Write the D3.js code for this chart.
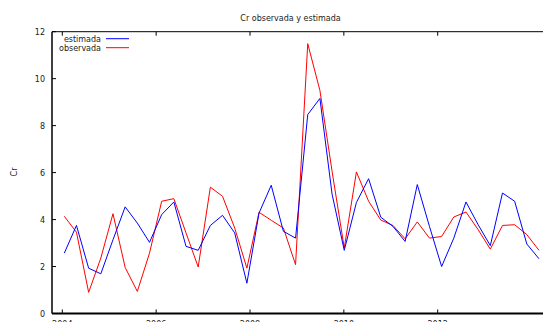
<!DOCTYPE html>
<html>
<head>
<meta charset="utf-8">
<script src="https://cdn.jsdelivr.net/npm/d3@7"></script>
<style>
  body { margin: 0; background: #fff; overflow: hidden; }
  text { font-family: "DejaVu Sans", sans-serif; font-size: 8px; fill: #222; }
</style>
</head>
<body>
<div id="graph"></div>
<script>
// quarterly observations, 40 periods
let estimada = [2.57, 3.75, 1.93, 1.69, 3.14, 4.54, 3.85, 3.03, 4.21, 4.75,
                2.86, 2.69, 3.75, 4.18, 3.43, 1.29, 4.28, 5.46, 3.50, 3.21,
                8.47, 9.16, 5.08, 2.69, 4.73, 5.74, 4.10, 3.71, 3.07, 5.49,
                3.71, 2.00, 3.21, 4.75, 3.78, 2.89, 5.13, 4.78, 2.96, 2.33];
let observada = [4.14, 3.46, 0.90, 2.36, 4.25, 1.96, 0.94, 2.57, 4.78, 4.89,
                 3.43, 1.98, 5.38, 4.99, 3.64, 1.93, 4.31, 3.97, 3.64, 2.08,
                 11.49, 9.50, 6.05, 2.79, 6.03, 4.78, 3.98, 3.75, 3.18, 3.90,
                 3.21, 3.28, 4.11, 4.32, 3.57, 2.74, 3.75, 3.78, 3.36, 2.69];
let yearTicks = [2004, 2006, 2008, 2010, 2012];
let yTicks = [0, 2, 4, 6, 8, 10, 12];

function graph() {
  let w = 543;
  let h = 322;
  let left = 52;
  let top = 31.7;
  let bottom = 313.5;

  const svg = d3.select("#graph")
                .append("svg")
                .attr("width", w)
                .attr("height", h);

  const xScale = d3.scaleLinear()
                   .domain([0, estimada.length - 1])
                   .range([64.3, 539]);

  // tick positions of the year axis (labels only)
  const yearScale = d3.scaleLinear()
                      .domain([2004, 2012])
                      .range([62.3, 437.7]);

  const yScale = d3.scaleLinear()
                   .domain([0, 12])
                   .range([bottom, top]);

  svg.append("text")
     .attr("x", 290.5)
     .attr("y", 21)
     .attr("text-anchor", "middle")
     .text("Cr observada y estimada");

  svg.append("text")
     .attr("transform", "translate(17,172) rotate(-90)")
     .attr("text-anchor", "middle")
     .text("Cr");

  // y ticks + labels
  yTicks.forEach(t => {
    svg.append("line")
       .attr("x1", left).attr("x2", left + 4)
       .attr("y1", yScale(t)).attr("y2", yScale(t))
       .attr("stroke", "#000");
    svg.append("text")
       .attr("x", 45)
       .attr("y", yScale(t) + 3)
       .attr("text-anchor", "end")
       .text(t);
  });

  // x ticks top and bottom
  yearTicks.forEach(t => {
    svg.append("line")
       .attr("x1", yearScale(t)).attr("x2", yearScale(t))
       .attr("y1", top).attr("y2", top + 4)
       .attr("stroke", "#000");
    svg.append("line")
       .attr("x1", yearScale(t)).attr("x2", yearScale(t))
       .attr("y1", bottom).attr("y2", bottom - 4)
       .attr("stroke", "#000");
    svg.append("text")
       .attr("x", yearScale(t))
       .attr("y", 327)
       .attr("text-anchor", "middle")
       .text(t);
  });

  const line = d3.line()
                 .x((d, i) => xScale(i))
                 .y(d => yScale(d));

  svg.append("path")
     .datum(observada)
     .attr("fill", "none")
     .attr("stroke", "#ff0000")
     .attr("stroke-width", 1)
     .attr("d", line);

  svg.append("path")
     .datum(estimada)
     .attr("fill", "none")
     .attr("stroke", "#0000ff")
     .attr("stroke-width", 1)
     .attr("d", line);

  // frame
  svg.append("line")
     .attr("x1", left).attr("x2", w + 5)
     .attr("y1", top).attr("y2", top)
     .attr("stroke", "#000").attr("stroke-width", 1);
  svg.append("line")
     .attr("x1", left).attr("x2", left)
     .attr("y1", top).attr("y2", bottom)
     .attr("stroke", "#000").attr("stroke-width", 1.5);
  svg.append("line")
     .attr("x1", left).attr("x2", w + 5)
     .attr("y1", bottom).attr("y2", bottom)
     .attr("stroke", "#000").attr("stroke-width", 2);

  // legend
  let legend = [["estimada", "#0000ff"], ["observada", "#ff0000"]];
  legend.forEach((l, i) => {
    let ly = 38.7 + i * 9;
    svg.append("text")
       .attr("x", 101)
       .attr("y", ly + 3)
       .attr("text-anchor", "end")
       .text(l[0]);
    svg.append("line")
       .attr("x1", 106).attr("x2", 129)
       .attr("y1", ly).attr("y2", ly)
       .attr("stroke", l[1]);
  });
}

graph();
</script>
</body>
</html>
